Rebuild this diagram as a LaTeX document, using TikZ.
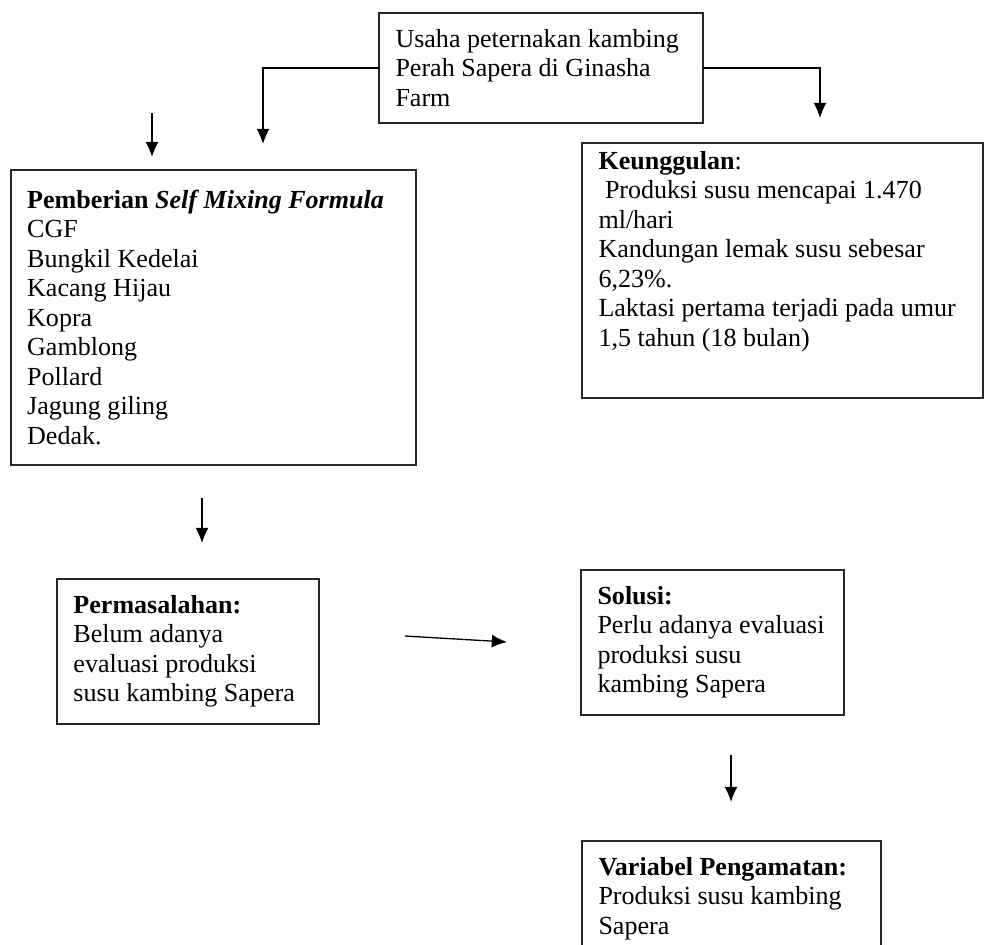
\documentclass[tikz,border=0pt]{standalone}
\usepackage{fontspec}
\setmainfont{Liberation Serif}
\usetikzlibrary{positioning,arrows.meta}
\tikzset{block/.style={draw=black!85,line width=0.8pt,anchor=north west,align=flush left,
           inner xsep=7.6pt,inner ysep=7.5pt,outer sep=0pt,
           font=\fontsize{12}{13.6}\selectfont},
         line/.style={line width=0.6pt,-{Latex[length=7pt,width=6pt]}}
}

\begin{document}
\begin{tikzpicture}[x=0.4608pt,y=-0.4608pt]
\useasboundingbox (0,0) rectangle (986,944);

\node[block,text width=134.1pt,minimum height=47pt] (usaha) at (379,13)
  {Usaha peternakan kambing\\ Perah Sapera di Ginasha\\ Farm};
\node[block,text width=171.4pt,minimum height=135.9pt] (pemberian) at (10.7,170)
  {\textbf{Pemberian \textit{Self Mixing Formula}}\\ CGF\\ Bungkil Kedelai\\ Kacang Hijau\\
   Kopra\\ Gamblong\\ Pollard\\ Jagung giling\\ Dedak.};
\node[block,text width=169.6pt,inner ysep=3.8pt] (keunggulan) at (582,143)
  {\textbf{Keunggulan}:\\ \hspace*{3pt}Produksi susu mencapai 1.470\\ ml/hari\\
   Kandungan lemak susu sebesar\\ 6,23\%.\\ Laktasi pertama terjadi pada umur\\
   1,5 tahun (18 bulan)\rule[-20pt]{0pt}{0pt}};
\node[block,text width=105.5pt,minimum height=65.4pt] (masalah) at (57,579)
  {\textbf{Permasalahan:}\\ Belum adanya\\ evaluasi produksi\\ susu kambing Sapera};
\node[block,text width=106pt,minimum height=65.9pt] (solusi) at (581,570)
  {\textbf{Solusi:}\\ Perlu adanya evaluasi\\ produksi susu\\ kambing Sapera};
\node[block,text width=122.6pt] (variabel) at (582,841)
  {\textbf{Variabel Pengamatan:}\\ Produksi susu kambing\\ Sapera\rule[-30pt]{0pt}{0pt}};

% free arrows
\coordinate (kiri) at (263,144);
\coordinate (kanan) at (820,118);
\coordinate (a1) at (152,113);
\coordinate (b1) at (152,157);
\coordinate (a2) at (202,498);
\coordinate (b2) at (202,543);
\coordinate (a3) at (405,636);
\coordinate (b3) at (507,642);
\coordinate (a4) at (731,755);
\coordinate (b4) at (731,802);

\draw[line] (usaha.west) -| (kiri);
\draw[line] (usaha.east) -| (kanan);
\draw[line] (a1) -- (b1);
\draw[line] (a2) -- (b2);
\draw[line] (a3) -- (b3);
\draw[line] (a4) -- (b4);

\end{tikzpicture}
\end{document}
